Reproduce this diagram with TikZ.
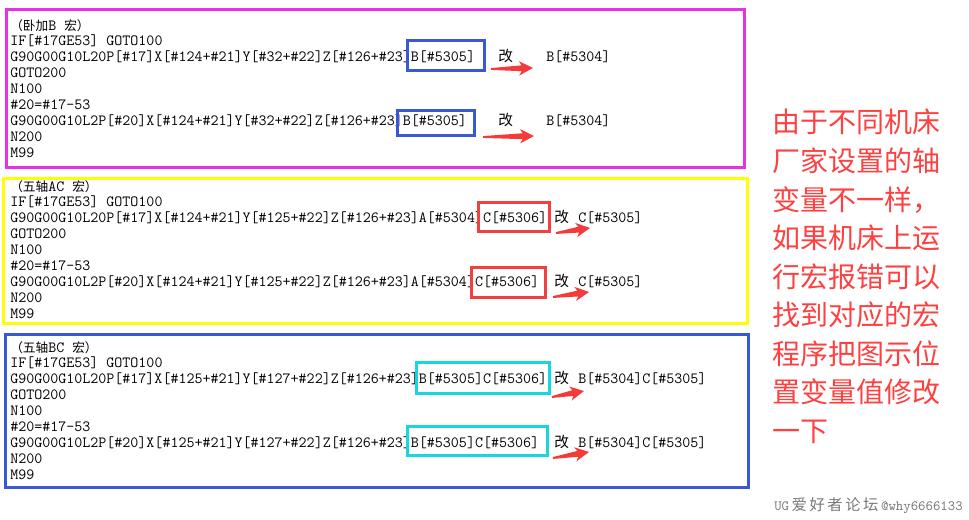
\documentclass[tikz,border=0pt]{standalone}
\usepackage{fontspec}
\newfontfamily\cjk{Noto Sans CJK SC}
\usepackage{xcolor}
\usetikzlibrary{calc}

\definecolor{frameMagenta}{RGB}{232,48,232}
\definecolor{frameYellow}{RGB}{255,255,0}
\definecolor{frameBlue}{RGB}{56,88,212}
\definecolor{markCyan}{RGB}{24,214,222}
\definecolor{markRed}{RGB}{240,64,64}
\definecolor{arrowRed}{RGB}{245,58,58}
\definecolor{noteRed}{RGB}{255,64,64}
\definecolor{wmGray}{RGB}{120,120,120}

\tikzset{
  code/.style={anchor=base west, inner sep=0pt, font=\ttfamily\fontsize{11.67}{12}\selectfont},
  gai/.style={code, font=\cjk\fontsize{11}{12}\selectfont},
  note/.style={anchor=base west, inner sep=0pt, text=noteRed, font=\cjk\fontsize{21}{25}\selectfont},
  frame/.style={line width=2.25pt},
  hlbox/.style={line width=2.25pt},
}
\newcommand{\hcjk}[1]{{\cjk\fontsize{9.5}{12}\selectfont #1}}

% tapered red arrow from tail #1 to tip #2
\newcommand{\fatarrow}[2]{%
  \fill[arrowRed] ($(#1)!0.7pt!90:(#2)$)
    -- ($(#2)!8.5pt!(#1)!2.2pt!-90:(#1)$)
    -- ($(#2)!10.5pt!(#1)!5.4pt!-90:(#1)$)
    -- (#2)
    -- ($(#2)!10.5pt!(#1)!5.4pt!90:(#1)$)
    -- ($(#2)!8.5pt!(#1)!2.2pt!90:(#1)$)
    -- ($(#1)!0.7pt!-90:(#2)$) -- cycle;}

\begin{document}
\begin{tikzpicture}[x=0.75pt, y=-0.75pt]
  \useasboundingbox (0,0) rectangle (969,520);

  % code blocks
  \node[code] (wbh) at (10,31) {\hcjk{（卧加}B \hcjk{宏）}};
  \foreach \t [count=\i] in {{IF[\#17GE53] GOTO100},
      {G90G00G10L20P[\#17]X[\#124+\#21]Y[\#32+\#22]Z[\#126+\#23]B[\#5305]},
      {GOTO200}, {N100}, {\#20=\#17-53},
      {G90G00G10L2P[\#20]X[\#124+\#21]Y[\#32+\#22]Z[\#126+\#23]B[\#5305]},
      {N200}, {M99}}
    \node[code] (wb\i) at (10,30+16*\i) {\t};
  \node[code] (ach) at (10,191) {\hcjk{（五轴}AC \hcjk{宏）}};
  \foreach \t [count=\i] in {{IF[\#17GE53] GOTO100},
      {G90G00G10L20P[\#17]X[\#124+\#21]Y[\#125+\#22]Z[\#126+\#23]A[\#5304]C[\#5306]},
      {GOTO200}, {N100}, {\#20=\#17-53},
      {G90G00G10L2P[\#20]X[\#124+\#21]Y[\#125+\#22]Z[\#126+\#23]A[\#5304]C[\#5306]},
      {N200}, {M99}}
    \node[code] (ac\i) at (10,190+16*\i) {\t};
  \node[code] (bch) at (10,352) {\hcjk{（五轴}BC \hcjk{宏）}};
  \foreach \t [count=\i] in {{IF[\#17GE53] GOTO100},
      {G90G00G10L20P[\#17]X[\#125+\#21]Y[\#127+\#22]Z[\#126+\#23]B[\#5305]C[\#5306]},
      {GOTO200}, {N100}, {\#20=\#17-53},
      {G90G00G10L2P[\#20]X[\#125+\#21]Y[\#127+\#22]Z[\#126+\#23]B[\#5305]C[\#5306]},
      {N200}, {M99}}
    \node[code] (bc\i) at (10,351+16*\i) {\t};

  % replacements
  \node[gai] (g1) at (498,62) {改};
  \node[code] (r1) at (546,62) {B[\#5304]};
  \node[gai] (g2) at (498,126) {改};
  \node[code] (r2) at (546,126) {B[\#5304]};
  \node[gai] (g3) at (554,222) {改};
  \node[code] (r3) at (578,222) {C[\#5305]};
  \node[gai] (g4) at (554,286) {改};
  \node[code] (r4) at (578,286) {C[\#5305]};
  \node[gai] (g5) at (554,383) {改};
  \node[code] (r5) at (578,383) {B[\#5304]C[\#5305]};
  \node[gai] (g6) at (554,447) {改};
  \node[code] (r6) at (578,447) {B[\#5304]C[\#5305]};

  % frames
  \draw[frame, frameMagenta] (6,10) rectangle (744,168);
  \draw[frame, frameYellow] (3,179) rectangle (747,323);
  \draw[frame, frameBlue] (5,334) rectangle (748,487);

  % highlighted variables
  \draw[hlbox, frameBlue] (407,41) rectangle (484,71);
  \draw[hlbox, frameBlue] (397,111) rectangle (474,136);
  \draw[hlbox, markRed] (478,203) rectangle (549,231);
  \draw[hlbox, markRed] (471,267) rectangle (545,297);
  \draw[hlbox, markCyan] (416,362) rectangle (549,393);
  \draw[hlbox, markCyan] (407,426) rectangle (547,455);

  % arrows
  \coordinate (t1) at (491,69);  \coordinate (p1) at (533,68);
  \coordinate (t2) at (483,137); \coordinate (p2) at (534,136);
  \coordinate (t3) at (556,233); \coordinate (p3) at (590,228);
  \coordinate (t4) at (553,297); \coordinate (p4) at (589,292);
  \coordinate (t5) at (552,397); \coordinate (p5) at (584,391);
  \coordinate (t6) at (553,458); \coordinate (p6) at (589,452);
  \foreach \k in {1,...,6}
    {\fatarrow{t\k}{p\k}}

  % note
  \foreach \t [count=\i from 0] in {由于不同机床, 厂家设置的轴, 变量不一样，,
      如果机床上运, 行宏报错可以, 找到对应的宏, 程序把图示位, 置变量值修改, 一下}
    \node[note] (n\i) at (772,133+38.5*\i) {\t};

  \node[anchor=base east, inner sep=0pt, text=wmGray] (wm) at (963,510)
    {\ttfamily\fontsize{10.6}{12}\selectfont UG{\cjk\fontsize{11.5}{12}\selectfont\,爱\,好\,者\,论\,坛\,}@why6666133};
\end{tikzpicture}
\end{document}
